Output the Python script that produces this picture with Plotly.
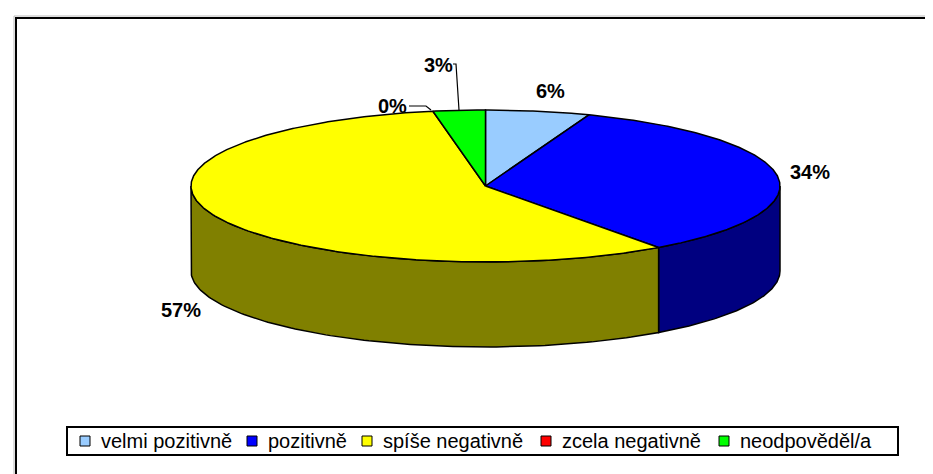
import numpy as np
import plotly.graph_objects as go

# data: answers (counts), labels shown in the chart, colours
kategorie = ["velmi pozitivně", "pozitivně", "spíše negativně", "zcela negativně", "neodpověděl/a"]
pocty = [2, 12, 20, 0, 1]
popisky = ["6%", "34%", "57%", "0%", "3%"]
barvy_vrch = ["#99CCFF", "#0000FF", "#FFFF00", "#FF0000", "#00FF00"]
barvy_bok = ["#4C6680", "#000080", "#808000", "#800000", "#008000"]

# pie geometry in pixels (axes are mapped 1:1 on the page)
W, H = 933, 474
cx, cy, rx, ry, hloubka = 477.5, 178, 294.5, 76, 85
PISMO = "Arial, Liberation Sans"


def bod(theta, dy=0.0):
    t = np.radians(theta)
    return cx + rx * np.sin(t), cy - ry * np.cos(t) + dy


podily = np.array(pocty) / sum(pocty)
konce = np.cumsum(podily) * 360
zacatky = konce - podily * 360

fig = go.Figure()

# side walls (only the front half is visible)
for a, b, barva in zip(zacatky, konce, barvy_bok):
    lo, hi = max(a, 90), min(b, 270)
    if hi <= lo:
        continue
    ts = np.linspace(lo, hi, 120)
    x1, y1 = bod(ts)
    x2, y2 = bod(ts[::-1], hloubka)
    fig.add_trace(go.Scatter(
        x=np.r_[x1, x2, x1[:1]], y=np.r_[y1, y2, y1[:1]],
        mode="lines", fill="toself", fillcolor=barva,
        line=dict(color="black", width=1.5), showlegend=False, hoverinfo="skip"))

# top faces
for k, a, b, barva in zip(kategorie, zacatky, konce, barvy_vrch):
    if b - a <= 0:
        continue
    ts = np.linspace(a, b, max(int((b - a) * 2), 4))
    x1, y1 = bod(ts)
    fig.add_trace(go.Scatter(
        x=np.r_[cx, x1, cx], y=np.r_[cy, y1, cy], name=k,
        mode="lines", fill="toself", fillcolor=barva,
        line=dict(color="black", width=1.5), showlegend=False, hoverinfo="name"))

# percentage labels
pozice = [(542, 83), (802, 164), (173, 302), (384, 98), (430, 57)]
for text, (px, py) in zip(popisky, pozice):
    fig.add_annotation(x=px, y=py, xref="x", yref="y", text=f"<b>{text}</b>",
                       showarrow=False, font=dict(size=20, color="black", family=PISMO))

# leader lines for the small slices
fig.add_shape(type="path", path="M 401 98 L 418 98 L 423 102", xref="x", yref="y",
              line=dict(color="black", width=1.2))
fig.add_shape(type="path", path="M 445 56 L 448 56 L 451 102", xref="x", yref="y",
              line=dict(color="black", width=1.2))

# legend box drawn like the Excel one
leg_x0, leg_x1, leg_y0, leg_y1 = 59, 890, 419, 447
leg_ctverec = [72, 239, 354, 533, 711]
fig.add_shape(type="rect", x0=leg_x0, x1=leg_x1, y0=leg_y0, y1=leg_y1, xref="x", yref="y",
              line=dict(color="black", width=2), fillcolor="white")
ly = (leg_y0 + leg_y1) / 2
for k, barva, sx in zip(kategorie, barvy_vrch, leg_ctverec):
    fig.add_shape(type="rect", x0=sx, x1=sx + 10, y0=ly - 5, y1=ly + 5, xref="x", yref="y",
                  line=dict(color="black", width=1), fillcolor=barva)
    fig.add_annotation(x=sx + 19, y=ly, xref="x", yref="y", text=k, xanchor="left",
                       showarrow=False, font=dict(size=20, color="black", family=PISMO))

# chart border
fig.add_shape(type="rect", x0=6, y0=8, x1=W + 50, y1=H + 50, xref="x", yref="y",
              line=dict(color="#BBBBBB", width=1))
fig.add_shape(type="rect", x0=8, y0=10, x1=W + 50, y1=H + 50, xref="x", yref="y",
              line=dict(color="black", width=2))

fig.update_layout(
    width=W, height=H,
    margin=dict(l=0, r=0, t=0, b=0),
    paper_bgcolor="white", plot_bgcolor="white",
    showlegend=False,
    xaxis=dict(range=[0, W], visible=False, fixedrange=True),
    yaxis=dict(range=[H, 0], visible=False, fixedrange=True),
)

fig.write_html("out.html")
